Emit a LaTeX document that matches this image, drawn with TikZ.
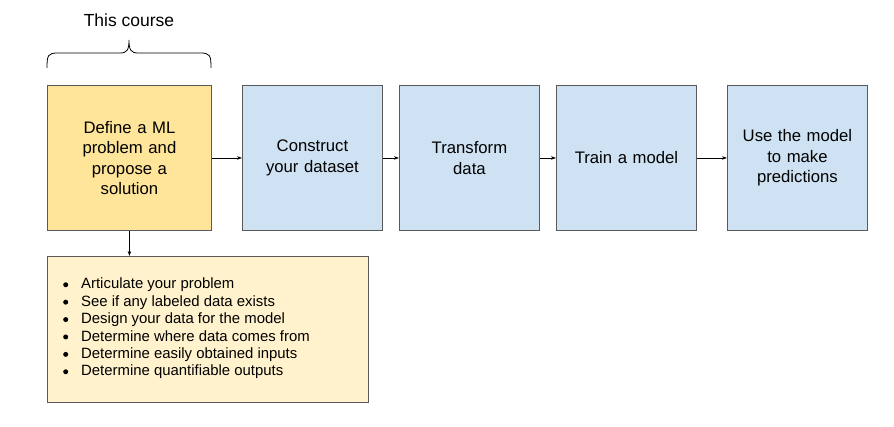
\documentclass[tikz,border=0pt]{standalone}
\usepackage{fontspec}
\setmainfont{Liberation Sans}
\usetikzlibrary{arrows.meta,decorations.pathreplacing}
\definecolor{boxyellow}{HTML}{FFE599}
\definecolor{boxblue}{HTML}{CFE2F3}
\definecolor{paleyellow}{HTML}{FFF2CC}
\definecolor{edgegray}{HTML}{595959}
\newcommand{\blt}{\makebox[18pt][l]{\raisebox{0.22ex}{\tikz\fill (0,0) circle (2.5pt);}}}
\begin{document}
\begin{tikzpicture}[x=1pt,y=-1pt,
  stagebox/.style={draw=edgegray, line width=0.9pt, minimum width=140pt, minimum height=145pt, align=center, font=\fontsize{16.7}{20.5}\selectfont, inner sep=0pt, text width=134pt, anchor=north west},
  flow/.style={-{Stealth[length=5pt,width=3.5pt]}, line width=0.7pt, black}]
\useasboundingbox (0,0) rectangle (894,427);
\fill[white] (0,0) rectangle (894,427);
\node[stagebox, fill=boxyellow, minimum width=164pt, text width=150pt] (s1) at (47,85) {Define a ML\\problem and\\propose a\\solution};
\node[stagebox, fill=boxblue] (s2) at (242,85) {Construct\\your dataset};
\node[stagebox, fill=boxblue] (s3) at (399,85) {Transform\\data};
\node[stagebox, fill=boxblue] (s4) at (556,85) {Train a model};
\node[stagebox, fill=boxblue] (s5) at (727,85) {Use the model\\to make\\predictions};
\draw[flow] (s1) -- (s2);
\draw[flow] (s2) -- (s3);
\draw[flow] (s3) -- (s4);
\draw[flow] (s4) -- (s5);
\node[draw=edgegray, line width=0.9pt, fill=paleyellow, anchor=north west, minimum width=321pt, minimum height=146pt, inner sep=0pt] (tasks) at (47,256) {};
\draw[flow] (s1.south) -- (s1.south |- tasks.north);
\node[anchor=north west, align=left, font=\fontsize{14.9}{17.4}\selectfont, inner sep=0pt] (list) at (63,278) {%
\blt Articulate your problem\\
\blt See if any labeled data exists\\
\blt Design your data for the model\\
\blt Determine where data comes from\\
\blt Determine easily obtained inputs\\
\blt Determine quantifiable outputs};
\coordinate (bl) at (47,68);
\coordinate (br) at (211,68);
\draw[line width=0.8pt] (bl) .. controls (47,55) and (48,53) .. (58,53) -- (120,53) .. controls (127,53) and (129,50) .. (129,40) .. controls (129,50) and (131,53) .. (138,53) -- (200,53) .. controls (210,53) and (211,55) .. (br);
\node[font=\fontsize{17.5}{20}\selectfont] (title) at (129,20) {This course};
\end{tikzpicture}
\end{document}
